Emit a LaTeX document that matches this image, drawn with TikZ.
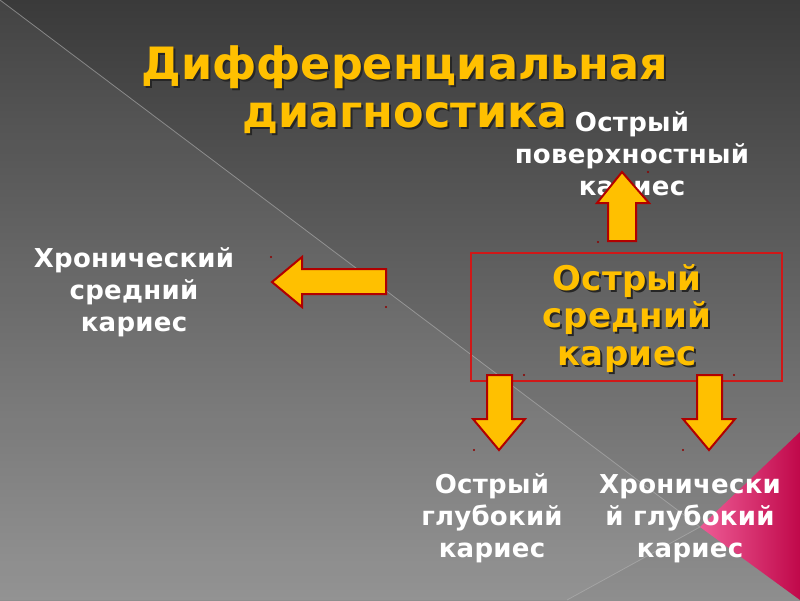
\documentclass[tikz,border=0pt]{standalone}
\usepackage{fontspec}
\setmainfont{DejaVu Sans}
\newfontfamily\slidetitle{DejaVu Sans Bold}
\newfontfamily\slidetext[LetterSpace=1]{DejaVu Sans Bold}
\usetikzlibrary{positioning}
\definecolor{bgtop}{HTML}{3A3A3A}
\definecolor{bgbottom}{HTML}{8E8E8E}
\definecolor{slideyellow}{HTML}{FFC000}
\definecolor{arrowred}{HTML}{B00000}
\definecolor{boxred}{HTML}{D01818}
\definecolor{cornerpink}{HTML}{EE5C96}
\definecolor{cornercrimson}{HTML}{C0084A}

\begin{document}
\begin{tikzpicture}[x=1pt, y=-1pt]
  % Background
  \useasboundingbox (0,0) rectangle (800,600);
  \shade[top color=bgtop, bottom color=bgbottom] (0,0) rectangle (800,600);
  \fill[white, opacity=0.05] (0,0) -- (700,527) -- (567,600) -- (0,600) -- cycle;
  % Corner triangle
  \shade[left color=cornerpink, right color=cornercrimson] (700,527) -- (800,432) -- (800,600) -- cycle;
  % Diagonal lines
  \draw[gray!60!white, opacity=0.6, line width=0.8] (0,0) -- (700,527) -- (567,600);
  \tikzset{
    titletext/.style={font=\slidetitle\fontsize{44.5}{48}\selectfont, text=slideyellow, align=center, inner sep=0, anchor=base},
    boxtext/.style={font=\slidetext\fontsize{34}{37.5}\selectfont, text=slideyellow, align=center, inner sep=0, anchor=base},
    plaintext/.style={font=\slidetext\fontsize{26}{32}\selectfont, text=white, align=center, inner sep=0, anchor=base},
    dropshadow/.style={text=black!85, xshift=2, yshift=-2},
    blockarrow/.style={fill=slideyellow, draw=arrowred, line width=2, line join=miter},
    handle/.style={fill=arrowred!80!black}
  }
  % Title
  \node[titletext, dropshadow] at (405,127) {Дифференциальная\\диагностика};
  \node[titletext] (title) at (405,127) {Дифференциальная\\диагностика};
  % Central box
  \draw[boxred, line width=1.2] (471,253) rectangle (782,381);
  \node[boxtext, dropshadow] at (627,365) {Острый\\средний\\кариес};
  \node[boxtext] (acutemid) at (627,365) {Острый\\средний\\кариес};
  % Outcome labels
  \node[plaintext] (acutesurf) at (632,195) {Острый\\поверхностный\\кариес};
  \node[plaintext] (chronmid) at (134,331) {Хронический\\средний\\кариес};
  \node[plaintext] (acutedeep) at (492,557) {Острый\\глубокий\\кариес};
  \node[plaintext] (chrondeep) at (690,557) {Хронически\\й глубокий\\кариес};
  % Block arrows
  \draw[blockarrow] (608,241) -- (608,203) -- (597,203) -- (622,172) -- (649,203) -- (636,203) -- (636,241) -- cycle;
  \draw[blockarrow] (386,269) -- (302,269) -- (302,257) -- (272,282) -- (302,307) -- (302,294) -- (386,294) -- cycle;
  \draw[blockarrow] (487,375) -- (487,419) -- (473,419) -- (499,450) -- (525,419) -- (512,419) -- (512,375) -- cycle;
  \draw[blockarrow] (697,375) -- (697,419) -- (683,419) -- (709,450) -- (735,419) -- (722,419) -- (722,375) -- cycle;
  % Selection handles
  \foreach \hx/\hy in {271/257, 386/307, 598/242, 648/172, 474/450, 524/375, 683/450, 734/375}
    \fill[handle] (\hx,\hy) circle (1.2);
\end{tikzpicture}
\end{document}
